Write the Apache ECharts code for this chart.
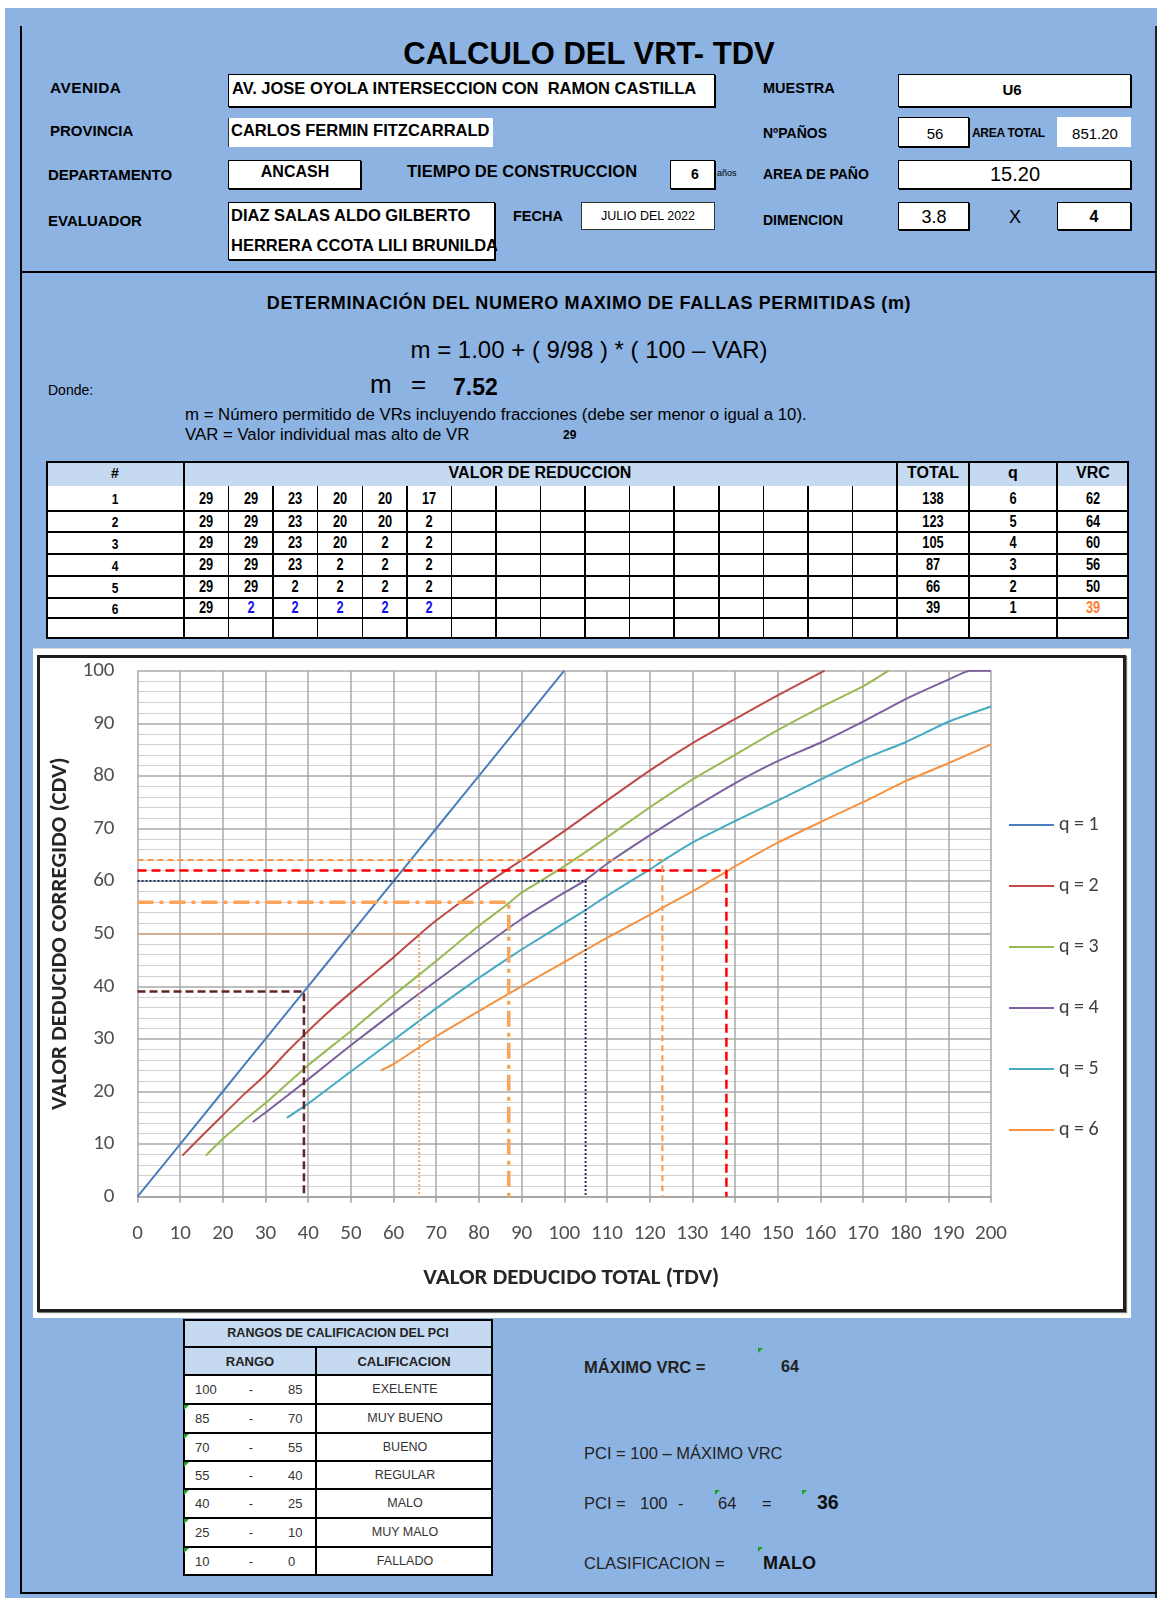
<!DOCTYPE html>
<html><head><meta charset="utf-8">
<script src="https://cdn.jsdelivr.net/npm/echarts@6/dist/echarts.min.js"></script>
<style>
html,body{margin:0;padding:0;background:#fff;}
#page{position:relative;width:1161px;height:1598px;overflow:hidden;font-family:"Liberation Sans",Arial,sans-serif;color:#000;}
.a{position:absolute;box-sizing:border-box;}
.t{position:absolute;white-space:pre;line-height:1;}
.gm{position:absolute;width:0;height:0;border-top:5px solid #17a317;border-right:5px solid transparent;}
</style></head><body><div id="page"></div>
<script>
// ---------------- DATA ----------------
const rowIds = ['1','2','3','4','5','6'];
const vrRows = [
  [29,29,23,20,20,17],
  [29,29,23,20,20,2],
  [29,29,23,20,2,2],
  [29,29,23,2,2,2],
  [29,29,2,2,2,2],
  [29,2,2,2,2,2]
];
const totals = [138,123,105,87,66,39];
const qValues = [6,5,4,3,2,1];
const vrcValues = [62,64,60,56,50,39];

const qNames = ['q = 1','q = 2','q = 3','q = 4','q = 5','q = 6'];
const q1Curve = [[0,0],[10,10],[20,20],[30,30],[40,40],[50,50],[60,60],[70,70],[80,80],[90,90],[100,100]];
const q2Curve = [[10.5,7.8],[15,11.5],[20,15.5],[25,19.5],[30,23.2],[35,27.5],[40,31.5],[45,35.3],[50,38.8],[60,45.5],[66,49.8],[70,52.5],[80,58.5],[90,64],[100,69.5],[110,75.3],[120,81],[130,86.2],[140,90.8],[150,95.3],[160,99.6],[161,100]];
const q3Curve = [[16,7.8],[20,11],[25,14.5],[30,17.8],[40,25],[50,31.5],[60,38.3],[70,44.8],[80,51.5],[87,55.8],[90,57.8],[100,62.8],[110,68.3],[120,74],[130,79.3],[140,84],[150,88.7],[160,93],[170,97],[176,100]];
const q4Curve = [[27,14.2],[30,16],[40,22.3],[50,28.8],[60,35],[70,41],[80,47],[90,52.8],[100,57.8],[105,60.2],[110,63.3],[120,68.7],[130,73.8],[140,78.6],[150,82.8],[160,86.3],[170,90.3],[180,94.6],[190,98.3],[195,100],[200,100]];
const q5Curve = [[35,15],[40,17.7],[50,23.8],[60,29.8],[70,35.8],[80,41.6],[90,47],[100,52],[105,54.5],[110,57.2],[120,62.2],[123,63.8],[130,67.3],[140,71.4],[150,75.3],[160,79.3],[170,83.2],[180,86.4],[190,90.3],[200,93.2]];
const q6Curve = [[57,24],[60,25.2],[70,30.5],[80,35.3],[90,40],[100,44.6],[110,49.2],[120,53.6],[130,58],[138,61.8],[140,62.8],[150,67.3],[160,71.2],[170,75],[180,79],[190,82.4],[200,86]];
const xTicks = {min:0, max:200, interval:10};
const yTicks = {min:0, max:100, interval:10};

const pciRanges = [[100,85],[85,70],[70,55],[55,40],[40,25],[25,10],[10,0]];
const pciLabels = ['EXELENTE','MUY BUENO','BUENO','REGULAR','MALO','MUY MALO','FALLADO'];
const maxVRC = 64;
const pciValue = 36;
const pciClass = 'MALO';

// ---------------- helpers ----------------
const page = document.getElementById('page');
function R(x,y,w,h,css){const d=document.createElement('div');d.className='a';Object.assign(d.style,{left:x+'px',top:y+'px',width:w+'px',height:h+'px'},css||{});page.appendChild(d);return d;}
function T(s,x,yc,size,o){o=o||{};const d=document.createElement('div');d.className='t';
  d.style.left=x+'px';d.style.top=(yc-0.49*size)+'px';d.style.fontSize=size+'px';d.textContent=s;
  if(o.b)d.style.fontWeight='bold';
  let tr='';if(o.c)tr+='translateX(-50%) ';if(o.sx){tr+='scaleX('+o.sx+')';if(!o.c)d.style.transformOrigin='left center';}
  if(tr)d.style.transform=tr;if(o.col)d.style.color=o.col;if(o.ls!=null)d.style.letterSpacing=o.ls+'px';
  page.appendChild(d);return d;}
function G(x,y){const d=document.createElement('div');d.className='gm';d.style.left=x+'px';d.style.top=y+'px';page.appendChild(d);}
const BX={background:'#fff',border:'1.5px solid #000',boxShadow:'1px 1px 0 #000'};

// ---------------- background & frame ----------------
R(5,8,1152,1590,{background:'#8db3e2'});
R(20,26,2,1568,{background:'#000'});
R(1155,26,2,1572,{background:'#222'});
R(20,271,1137,2,{background:'#000'});
R(20,1592,1137,2,{background:'#000'});

// ---------------- header ----------------
T('CALCULO DEL VRT- TDV',589,53,31,{b:1,c:1});
R(228,74,487,33,BX); R(898,74,233,33,BX);
R(228,118,265,29,{background:'#fff',borderLeft:'1.5px solid #333'});
R(898,117,71,30,BX); R(1057,117,74,30,{background:'#fff'});
R(228,160,133,29,BX); R(670,160,45,29,BX); R(898,160,233,29,BX);
R(228,202,267,58,BX); R(581,202,134,28,{background:'#fff',border:'1px solid #333'});
R(898,202,71,28,BX); R(1057,202,74,28,BX);

T('AVENIDA',50,88,15.5,{b:1,ls:0.4});
T('AV. JOSE OYOLA INTERSECCION CON  RAMON CASTILLA',232,88,16.5,{b:1});
T('MUESTRA',763,88,14.5,{b:1});
T('U6',1012,89,15,{b:1,c:1});
T('PROVINCIA',50,130,15,{b:1});
T('CARLOS FERMIN FITZCARRALD',231,130,16.5,{b:1});
T('NºPAÑOS',763,133,14,{b:1});
T('56',935,133,15,{c:1});
T('AREA TOTAL',972,133,12,{b:1,ls:-0.3});
T('851.20',1095,133,15,{c:1});
T('DEPARTAMENTO',48,174,15,{b:1});
T('ANCASH',295,172,16,{b:1,c:1});
T('TIEMPO DE CONSTRUCCION',407,171,16.5,{b:1});
T('6',695,174,14,{b:1,c:1});
T('años',717,173,9);
T('AREA DE PAÑO',763,174,14,{b:1});
T('15.20',1015,174,20,{c:1});
T('EVALUADOR',48,220,15,{b:1});
T('DIAZ SALAS ALDO GILBERTO',231,215,16.5,{b:1});
T('HERRERA CCOTA LILI BRUNILDA',231,245,16.5,{b:1});
T('FECHA',513,216,14.5,{b:1});
T('JULIO DEL 2022',648,216,12.5,{c:1});
T('DIMENCION',763,220,14,{b:1});
T('3.8',934,217,18,{c:1});
T('X',1015,217,18,{c:1});
T('4',1094,217,16,{b:1,c:1});

// ---------------- section 2 ----------------
T('DETERMINACIÓN DEL NUMERO MAXIMO DE FALLAS PERMITIDAS (m)',589,303,18,{b:1,c:1,ls:0.6});
T('m = 1.00 + ( 9/98 ) * ( 100 – VAR)',589,350,24,{c:1});
T('Donde:',48,390,14);
T('m',370,384,26);
T('=',411,384,26);
T('7.52',453,387,23,{b:1});
T('m = Número permitido de VRs incluyendo fracciones (debe ser menor o igual a 10).',185,415,16.8);
T('VAR = Valor individual mas alto de VR',185,435,16.8);
T(String(Math.max.apply(null,vrRows[0])),563,435,12,{b:1});

// ---------------- table 1 ----------------
(function(){
  const L=46,Rr=1129,top=461,hb=486,bot=639;
  const vx0=184,vx1=897,nv=16,cw=(vx1-vx0)/nv;
  const rows=[486,511,532,554,576,598,618,639];
  R(L,top,Rr-L,hb-top,{background:'#c5d9f1'});
  R(L,hb,Rr-L,bot-hb,{background:'#fff'});
  for(let i=1;i<rows.length-1;i++)R(L,rows[i]-0.75,Rr-L,1.5,{background:'#000'});
  [184,897,969,1057].forEach(x=>R(x-0.75,top,1.5,bot-top,{background:'#000'}));
  for(let i=1;i<nv;i++)R(vx0+i*cw-0.75,hb,1.5,bot-hb,{background:'#000'});
  R(L,top,Rr-L,bot-top,{border:'2px solid #000'});
  T('#',115,473,14,{b:1,c:1});
  T('VALOR DE REDUCCION',540,473,16,{b:1,c:1});
  T('TOTAL',933,473,16,{b:1,c:1});
  T('q',1013,473,16,{b:1,c:1});
  T('VRC',1093,473,16,{b:1,c:1});
  for(let r=0;r<vrRows.length;r++){
    const yc=(rows[r]+rows[r+1])/2;
    T(rowIds[r],115,yc,15,{b:1,c:1,sx:0.8});
    vrRows[r].forEach((v,j)=>{
      const col=(r===vrRows.length-1&&j>0)?'#1010ee':'#000';
      T(String(v),vx0+(j+0.5)*cw,yc,16,{b:1,c:1,sx:0.8,col:col});
    });
    T(String(totals[r]),933,yc,16,{b:1,c:1,sx:0.8});
    T(String(qValues[r]),1013,yc,16,{b:1,c:1,sx:0.8});
    T(String(vrcValues[r]),1093,yc,16,{b:1,c:1,sx:0.8,col:(r===vrRows.length-1)?'#ff7c2a':'#000'});
  }
})();

// ---------------- chart box ----------------
R(33,648,1098,670,{background:'#fff',borderTop:'1px solid #d8d8d8'});
R(37,655,1089,657,{border:'3px solid #1e1e1e',boxShadow:'1px 1px 1px #777'});
const cd=R(33,648,1098,670,{});
cd.id='chart';

// ---------------- bottom table ----------------
(function(){
  const L=183,M=316,Rr=493;
  const rows=[1319,1347,1375,1404,1433,1461,1489,1518,1547,1576];
  R(L,rows[0],Rr-L,rows[2]-rows[0],{background:'#c5d9f1'});
  R(L,rows[2],Rr-L,rows[9]-rows[2],{background:'#fff'});
  for(let i=1;i<rows.length-1;i++)R(L,rows[i]-0.75,Rr-L,1.5,{background:'#000'});
  R(M-0.75,rows[1],1.5,rows[9]-rows[1],{background:'#000'});
  R(L,rows[0],Rr-L,rows[9]-rows[0],{border:'2px solid #000'});
  T('RANGOS DE CALIFICACION DEL PCI',338,1333,12.5,{b:1,c:1,col:'#222'});
  T('RANGO',250,1361,13,{b:1,c:1,col:'#222'});
  T('CALIFICACION',404,1361,13,{b:1,c:1,col:'#222'});
  pciRanges.forEach((rg,i)=>{
    const yc=(rows[i+2]+rows[i+3])/2;
    T(String(rg[0]),195,yc,13,{col:'#333'});
    T('-',251,yc,13,{c:1,col:'#333'});
    T(String(rg[1]),288,yc,13,{col:'#333'});
    T(pciLabels[i],405,yc,12.5,{c:1,col:'#333'});
    if(i>0)G(184,rows[i+2]+1);
  });
})();

// ---------------- bottom right ----------------
T('MÁXIMO VRC =',584,1367,16.5,{b:1,col:'#222'});
G(758,1348); T(String(maxVRC),781,1367,16,{b:1,col:'#222'});
T('PCI = 100 – MÁXIMO VRC',584,1453,16.5,{col:'#222'});
T('PCI =',584,1503,16.5,{col:'#222'});
T('100',640,1503,16.5,{col:'#222'});
T('-',678,1503,16.5,{col:'#222'});
G(715,1490); T(String(maxVRC),718,1503,16.5,{col:'#222'});
T('=',762,1503,16.5,{col:'#222'});
G(802,1490); T(String(pciValue),817,1503,19.5,{b:1,col:'#111'});
T('CLASIFICACION =',584,1563,16.5,{col:'#222'});
G(758,1547); T(pciClass,763,1563,18,{b:1,col:'#111'});

// ---------------- ECharts ----------------
const curves=[q1Curve,q2Curve,q3Curve,q4Curve,q5Curve,q6Curve];
const curveColors=['#4a7ebb','#be4b48','#98b954','#7d60a0','#46aac5','#f69240'];
const refStyles={
  1:{color:'#632523',type:[8,4],width:2.5},
  2:{color:'#f79646',type:[2,2],width:1.5},
  3:{color:'#f9a65a',type:[16,6,4,6],width:3.5},
  4:{color:'#1f3864',type:[2,2],width:2},
  5:{color:'#f79646',type:[6,4],width:2},
  6:{color:'#ff0000',type:[9,5],width:2.5}
};
const FONT='Carlito, Lato, sans-serif';
const series=[];
curves.forEach((c,i)=>series.push({
  name:qNames[i],type:'line',data:c,symbol:'none',smooth:0.15,z:3,
  lineStyle:{color:curveColors[i],width:2},itemStyle:{color:curveColors[i]}
}));
totals.forEach((t,i)=>{
  const st=refStyles[qValues[i]];
  series.push({name:'ref'+qValues[i],type:'line',symbol:'none',silent:true,z:4,
    data:[[0,vrcValues[i]],[t,vrcValues[i]],[t,0]],
    lineStyle:{color:st.color,type:st.type,width:st.width}});
});
const chart=echarts.init(document.getElementById('chart'));
chart.setOption({
  animation:false,
  backgroundColor:'transparent',
  grid:{left:104.5,top:22.7,width:853.5,height:526,show:false},
  legend:{orient:'vertical',left:971,top:162,itemWidth:45,itemHeight:20,itemGap:41,
    data:qNames.map(n=>({name:n,icon:'path://M0,0H45V2.2H0Z'})),
    textStyle:{fontSize:20,color:'#404040',fontFamily:FONT,lineHeight:20}},
  xAxis:{type:'value',min:xTicks.min,max:xTicks.max,interval:xTicks.interval,
    name:'VALOR DEDUCIDO TOTAL (TDV)',nameLocation:'middle',nameGap:70,
    nameTextStyle:{fontSize:23,fontWeight:'bold',color:'#262626',fontFamily:FONT,padding:[0,0,0,14]},
    axisLine:{show:true,lineStyle:{color:'#a0a0a0',width:1.5}},
    axisTick:{show:true,length:6,lineStyle:{color:'#a0a0a0',width:1.5}},
    axisLabel:{margin:27,fontSize:21,color:'#505050',fontFamily:FONT},
    splitLine:{show:true,lineStyle:{color:'#a8a8a8',width:1.5}}},
  yAxis:{type:'value',min:yTicks.min,max:yTicks.max,interval:yTicks.interval,
    name:'VALOR DEDUCIDO CORREGIDO (CDV)',nameLocation:'middle',nameGap:62,
    nameTextStyle:{fontSize:23,fontWeight:'bold',color:'#262626',fontFamily:FONT},
    axisLine:{show:false},axisTick:{show:false},
    axisLabel:{margin:23,fontSize:21,color:'#505050',fontFamily:FONT},
    splitLine:{show:true,lineStyle:{color:'#a8a8a8',width:1.5}},
    minorTick:{show:false,splitNumber:5},
    minorSplitLine:{show:true,lineStyle:{color:'#d2d2d2',width:1}}},
  series:series
});
</script></body></html>
